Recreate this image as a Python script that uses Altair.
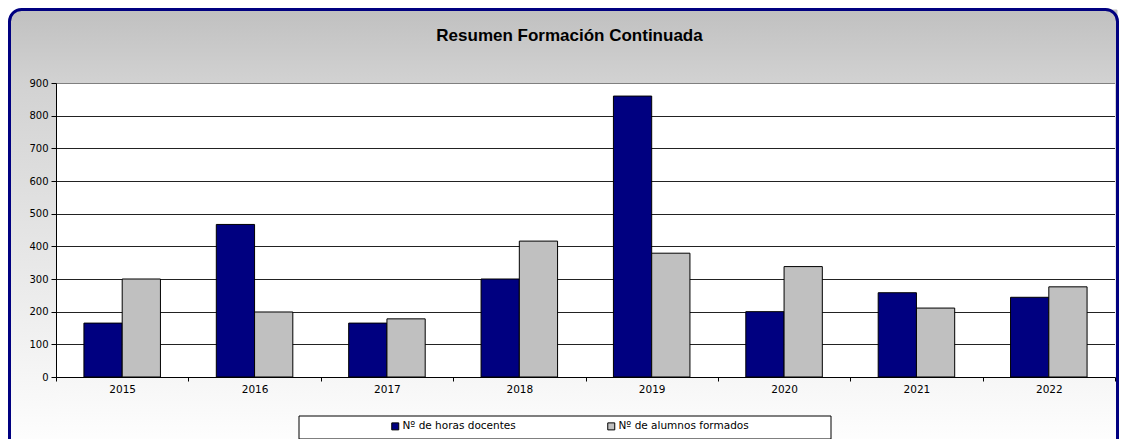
import altair as alt
import pandas as pd

# ---- data ----
years = ["2015", "2016", "2017", "2018", "2019", "2020", "2021", "2022"]
horas = [165, 467, 165, 300, 860, 200, 258, 244]
alumnos = [300, 199, 178, 416, 379, 338, 211, 276]
series = ["Nº de horas docentes", "Nº de alumnos formados"]
colors = ["#000080", "#c0c0c0"]
y_ticks = [0, 100, 200, 300, 400, 500, 600, 700, 800, 900]
grid_ticks = [100, 200, 300, 400, 500, 600, 700, 800]

rows = []
for i, yr in enumerate(years):
    rows.append({"year": yr, "serie": series[0], "valor": horas[i]})
    rows.append({"year": yr, "serie": series[1], "valor": alumnos[i]})
df = pd.DataFrame(rows)
one = pd.DataFrame({"k": [0]})

W, H = 1059, 294
FONT = "DejaVu Sans"


def grad(stops):
    return alt.LinearGradient(
        gradient="linear",
        stops=[alt.GradientStop(color=c, offset=o) for o, c in stops],
        x1=0, x2=0, y1=0, y2=1,
    )


def rect(x, x2, y, y2, **kw):
    return alt.Chart(one).mark_rect(**kw).encode(
        x=alt.value(x), x2=alt.value(x2), y=alt.value(y), y2=alt.value(y2)
    )


FX1, FX2, FY1, FY2 = -46.5, W + 2.5, -73.5, 370
full = grad([(0, "#c0c0c0"), (0.166, "#d2d2d2"), (1, "#ffffff")])
left_strip = rect(FX1, 0, FY1, FY2, fill=full,
                  cornerRadiusTopLeft=12, cornerRadiusBottomLeft=12)
right_strip = rect(W, FX2, FY1, FY2, fill=full,
                   cornerRadiusTopRight=12, cornerRadiusBottomRight=12)
top_strip = rect(0, W, FY1, 0, fill=grad([(0, "#c0c0c0"), (1, "#d2d2d2")]))
bottom_strip = rect(0, W, H, FY2, fill=grad([(0, "#f6f6f6"), (1, "#ffffff")]))
frame = rect(FX1, FX2, FY1, FY2, filled=False, stroke="#000080", strokeWidth=3, cornerRadius=12)
legend_box = rect(243, 775, 333, 356, fill="white", stroke="black", strokeWidth=1)

bars = alt.Chart(df).mark_bar(stroke="black", strokeWidth=1).encode(
    x=alt.X(
        "year:N", sort=years,
        scale=alt.Scale(paddingInner=0, paddingOuter=0),
        axis=alt.Axis(
            title=None, labelAngle=0, tickBand="extent", tickSize=4,
            tickColor="black", domainColor="black", labelColor="black",
            labelFont=FONT, labelFontSize=10.5, labelPadding=3, zindex=1,
        ),
    ),
    xOffset=alt.XOffset("serie:N", sort=series,
                        scale=alt.Scale(paddingInner=0, paddingOuter=0.73)),
    y=alt.Y(
        "valor:Q", scale=alt.Scale(domain=[0, 900], nice=False),
        axis=alt.Axis(
            title=None, orient="left", grid=True, gridColor="#222222", gridWidth=1,
            values=grid_ticks, labels=False, ticks=False, domain=False, zindex=0,
        ),
    ),
    color=alt.Color(
        "serie:N", sort=series,
        scale=alt.Scale(domain=series, range=colors),
        legend=alt.Legend(
            title=None, orient="none", legendX=334, legendY=338, direction="horizontal",
            symbolType="square", symbolSize=49, symbolStrokeColor="black",
            symbolStrokeWidth=1, symbolOpacity=1, labelFont=FONT, labelFontSize=10.5,
            labelColor="black", labelOffset=2, columnPadding=89, padding=0,
        ),
    ),
)

yaxis_layer = alt.Chart(df).mark_point(opacity=0).encode(
    y=alt.Y(
        "valor:Q", scale=alt.Scale(domain=[0, 900], nice=False),
        axis=alt.Axis(
            title=None, orient="left", grid=False, values=y_ticks, tickSize=5,
            tickColor="black", domainColor="black", labelColor="black",
            labelFont=FONT, labelFontSize=10, labelPadding=3, zindex=1,
        ),
    )
)

chart = (
    alt.layer(left_strip, right_strip, top_strip, bottom_strip, frame, legend_box,
              bars, yaxis_layer)
    .resolve_axis(y="independent")
    .properties(
        width=W, height=H,
        autosize=alt.AutoSizeParams(type="none"),
        padding={"left": 48, "top": 75, "right": 4, "bottom": 62},
        background="white",
        title=alt.TitleParams(
            "Resumen Formación Continuada", font="Liberation Sans", fontSize=17,
            fontWeight="bold", color="black", anchor="middle", frame="group",
            dx=-16, baseline="alphabetic", offset=-50,
        ),
    )
    .configure_view(fill="white", stroke="#808080", strokeWidth=1)
)

chart.save("out.html", embed_options={"renderer": "svg", "actions": False})
